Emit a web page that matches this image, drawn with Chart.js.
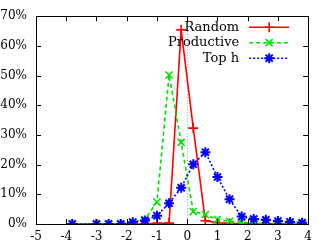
<!DOCTYPE html>
<html>
<head>
<meta charset="utf-8">
<script src="https://cdn.jsdelivr.net/npm/chart.js@4"></script>
<style>
    html, body { margin: 0; padding: 0; background: #fff; }
    #wrap { width: 318px; height: 244px; }
</style>
</head>
<body>
<div id="wrap"><canvas id="chart"></canvas></div>
<script>
// bin centers and share of cases per bin (%)
const bins = [-3.8, -3.0, -2.6, -2.2, -1.8, -1.4, -1.0, -0.6, -0.2, 0.2, 0.6, 1.0, 1.4, 1.8, 2.2, 2.6, 3.0, 3.4, 3.8];
const random = [0, 0, 0, 0, 0, 0, 0.2, 0.3, 65.4, 32.3, 1.1, 0.4, 0.2, 0.1, 0.1, 0.1, 0.05, 0, 0];
const productive = [0.1, 0.1, 0.1, 0.1, 0.6, 1.5, 7.4, 50.2, 27.5, 4.2, 3.2, 1.5, 0.9, 0.6, 0.3, 0.2, 0.2, 0.1, 0.1];
const topH = [0, 0, 0, 0, 0.6, 1.2, 2.8, 7.0, 12.2, 20.1, 24.2, 15.8, 8.3, 2.5, 1.7, 1.4, 1.0, 0.7, 0.4];
const seriesNames = ['Random', 'Productive', 'Top h'];
const xTicks = [-5, -4, -3, -2, -1, 0, 1, 2, 3, 4];
const yTicks = [0, 10, 20, 30, 40, 50, 60, 70];

const FONT = '"DejaVu Serif", serif';
const toPoints = vals => vals.map((v, i) => ({ x: bins[i], y: v }));

// gnuplot-like frame: box, inward ticks on all sides, dotted zero axis
const framePlugin = {
    id: 'frame',
    beforeDatasetsDraw(chart) {
        const { ctx, chartArea: a, scales: { x } } = chart;
        const x0 = Math.round(x.getPixelForValue(0)) + 0.5;
        ctx.save();
        ctx.strokeStyle = '#a8a8a8';
        ctx.lineWidth = 1;
        ctx.setLineDash([1, 2]);
        ctx.beginPath();
        ctx.moveTo(x0, a.top);
        ctx.lineTo(x0, a.bottom);
        ctx.stroke();
        ctx.restore();
    },
    afterDatasetsDraw(chart) {
        const { ctx, chartArea: a, scales: { x, y } } = chart;
        const len = 5;
        ctx.save();
        ctx.strokeStyle = '#000';
        ctx.lineWidth = 1;
        ctx.beginPath();
        x.ticks.forEach(t => {
            const p = Math.round(x.getPixelForValue(t.value)) + 0.5;
            ctx.moveTo(p, a.bottom);
            ctx.lineTo(p, a.bottom - len);
            ctx.moveTo(p, a.top);
            ctx.lineTo(p, a.top + len);
        });
        y.ticks.forEach(t => {
            const p = Math.round(y.getPixelForValue(t.value)) + 0.5;
            ctx.moveTo(a.left, p);
            ctx.lineTo(a.left + len, p);
            ctx.moveTo(a.right, p);
            ctx.lineTo(a.right - len, p);
        });
        ctx.stroke();
        ctx.strokeRect(Math.round(a.left) + 0.5, Math.round(a.top) + 0.5,
            Math.round(a.width), Math.round(a.height));
        ctx.restore();
    }
};

// key inside the plot, top right: label, then line sample with marker
const keyPlugin = {
    id: 'key',
    afterDatasetsDraw(chart) {
        const { ctx, chartArea: a } = chart;
        ctx.save();
        ctx.font = '13px ' + FONT;
        ctx.textAlign = 'right';
        ctx.textBaseline = 'middle';
        chart.data.datasets.forEach((ds, i) => {
            const yy = a.top + 11 + i * 15.5;
            ctx.fillStyle = '#000';
            ctx.fillText(ds.label, a.right - 69, yy);
            ctx.strokeStyle = ds.borderColor;
            ctx.fillStyle = ds.borderColor;
            ctx.lineWidth = ds.borderWidth;
            ctx.setLineDash(ds.borderDash || []);
            ctx.beginPath();
            ctx.moveTo(a.right - 59, yy);
            ctx.lineTo(a.right - 19, yy);
            ctx.stroke();
            ctx.setLineDash([]);
            ctx.lineWidth = ds.pointBorderWidth;
            Chart.helpers.drawPoint(ctx, {
                pointStyle: ds.pointStyle,
                rotation: 0,
                radius: ds.pointRadius,
                borderWidth: ds.pointBorderWidth
            }, a.right - 39, yy);
        });
        ctx.restore();
    }
};

const ctx = document.getElementById('chart').getContext('2d');
new Chart(ctx, {
    type: 'line',
    data: {
        datasets: [{
            label: seriesNames[0],
            data: toPoints(random),
            borderColor: '#ff0000',
            backgroundColor: '#ff0000',
            borderWidth: 1.6,
            pointStyle: 'cross',
            pointRadius: 5,
            pointBorderWidth: 1.6,
            order: 3
        }, {
            label: seriesNames[1],
            data: toPoints(productive),
            borderColor: '#00e000',
            backgroundColor: '#00e000',
            borderWidth: 1.6,
            borderDash: [4, 3],
            pointStyle: 'crossRot',
            pointRadius: 5,
            pointBorderWidth: 1.6,
            order: 2
        }, {
            label: seriesNames[2],
            data: toPoints(topH),
            borderColor: '#0000ff',
            backgroundColor: '#0000ff',
            borderWidth: 1.6,
            borderDash: [2, 2],
            pointStyle: 'star',
            pointRadius: 5,
            pointBorderWidth: 2,
            order: 1
        }]
    },
    options: {
        responsive: true,
        maintainAspectRatio: false,
        animation: false,
        layout: { padding: { top: 8, right: 6, left: 0, bottom: 0 } },
        plugins: {
            legend: { display: false },
            tooltip: { enabled: false }
        },
        scales: {
            x: {
                type: 'linear',
                min: xTicks[0],
                max: xTicks[xTicks.length - 1],
                afterBuildTicks: s => { s.ticks = xTicks.map(v => ({ value: v })); },
                afterFit: s => { s.height = 20; },
                ticks: {
                    color: '#000',
                    font: { family: FONT, size: 12 },
                    padding: 6,
                    maxRotation: 0
                },
                grid: { display: false, drawTicks: false },
                border: { display: false }
            },
            y: {
                min: yTicks[0],
                max: yTicks[yTicks.length - 1],
                afterBuildTicks: s => { s.ticks = yTicks.map(v => ({ value: v })); },
                afterFit: s => { s.width = 36; },
                ticks: {
                    color: '#000',
                    font: { family: FONT, size: 12 },
                    padding: 9,
                    callback: v => v + '%'
                },
                grid: { display: false, drawTicks: false },
                border: { display: false }
            }
        }
    },
    plugins: [framePlugin, keyPlugin]
});
</script>
</body>
</html>
